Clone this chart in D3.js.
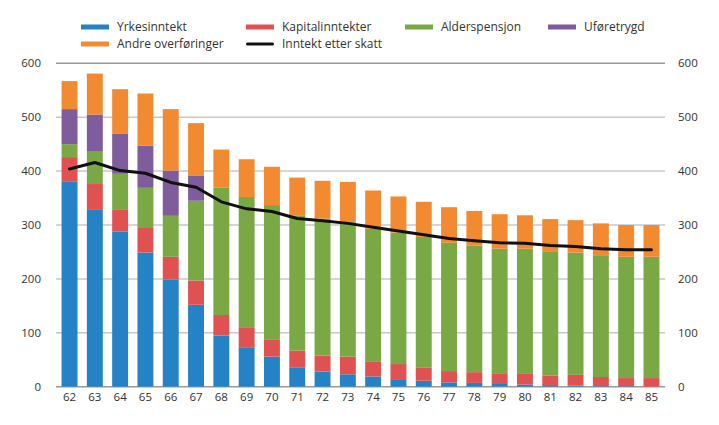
<!DOCTYPE html>
<html>
<head>
<meta charset="utf-8">
<script src="https://cdn.jsdelivr.net/npm/d3@7"></script>
<style>
  body { margin: 0; background: #fff; }
  text { font-family: "Open Sans", sans-serif; fill: #333; }
</style>
</head>
<body>
<svg id="chart" width="719" height="425"></svg>
<script>
const ages = ['62','63','64','65','66','67','68','69','70','71','72','73','74','75','76','77','78','79','80','81','82','83','84','85'];

// stacked components (thousand NOK)
const yrkesinntekt = [380, 328, 288, 249, 199, 152, 95, 72, 56, 36, 28, 23, 19, 14, 11, 8, 7, 5, 4, 3, 2, 1, 1, 0];
const kapital = [46, 48, 40, 47, 42, 45, 38, 37, 32, 31, 30, 33, 27, 28, 24, 21, 20, 20, 21, 18, 20, 17, 15, 16];
const alderspensjon = [24, 60, 67, 73, 76, 148, 236, 243, 249, 251, 254, 251, 247, 244, 243, 238, 235, 231, 231, 229, 227, 226, 225, 225];
const uforetrygd = [65, 69, 74, 78, 84, 46, 0, 0, 0, 0, 0, 0, 0, 0, 0, 0, 0, 0, 0, 0, 0, 0, 0, 0];
const andre = [52, 76, 83, 97, 114, 98, 71, 70, 71, 70, 70, 73, 71, 67, 65, 66, 64, 64, 62, 61, 60, 59, 59, 59];
const etterSkatt = [404, 416, 401, 396, 379, 370, 343, 330, 325, 312, 308, 303, 296, 289, 282, 275, 271, 267, 266, 262, 260, 256, 254, 254];

const yTicks = [0, 100, 200, 300, 400, 500, 600];

const seriesNames = ['Yrkesinntekt', 'Kapitalinntekter', 'Alderspensjon', 'Uføretrygd', 'Andre overføringer'];
const colors = ['#2582c4', '#e05252', '#7aa844', '#7f5c9b', '#f28a31'];

const rows = ages.map((a, i) => ({
  age: a,
  'Yrkesinntekt': yrkesinntekt[i],
  'Kapitalinntekter': kapital[i],
  'Alderspensjon': alderspensjon[i],
  'Uføretrygd': uforetrygd[i],
  'Andre overføringer': andre[i]
}));

const svg = d3.select('#chart');
const plotLeft = 56, plotRight = 665, plotTop = 63.3, plotBottom = 386.7;

const x = d3.scaleBand().domain(ages).range([plotLeft, plotRight]).paddingInner(0.37).paddingOuter(0.22);
const y = d3.scaleLinear().domain([0, 600]).range([plotBottom, plotTop]);

// gridlines
svg.append('g')
  .selectAll('line')
  .data(yTicks)
  .enter()
  .append('line')
  .attr('x1', plotLeft)
  .attr('x2', plotRight)
  .attr('y1', d => y(d))
  .attr('y2', d => y(d))
  .attr('stroke', d => (d === 600 || d === 0) ? '#9a9a9a' : '#c8c8c8')
  .attr('stroke-width', 1.5);

// axes (labels only)
const yLeft = d3.axisLeft(y).tickValues(yTicks).tickSize(0).tickPadding(0);
const gl = svg.append('g').attr('transform', `translate(${plotLeft - 15},0)`).call(yLeft);
const yRight = d3.axisRight(y).tickValues(yTicks).tickSize(0).tickPadding(0);
const gr = svg.append('g').attr('transform', `translate(${plotRight + 13},0)`).call(yRight);
const xAxis = d3.axisBottom(x).tickSize(0).tickPadding(0);
const gx = svg.append('g').attr('transform', `translate(0,${plotBottom + 6})`).call(xAxis);
[gl, gr, gx].forEach(g => {
  g.select('.domain').remove();
  g.selectAll('text').style('font-size', '11.5px').style('font-family', '"Open Sans", sans-serif').attr('fill', '#333');
});

// stacked bars
const stack = d3.stack().keys(seriesNames)(rows);
svg.append('g')
  .selectAll('g')
  .data(stack)
  .enter()
  .append('g')
  .attr('fill', (d, i) => colors[i])
  .selectAll('rect')
  .data(d => d)
  .enter()
  .append('rect')
  .attr('x', d => x(d.data.age))
  .attr('y', d => y(d[1]))
  .attr('width', x.bandwidth())
  .attr('height', d => y(d[0]) - y(d[1]));

// line
const line = d3.line()
  .x((d, i) => x(ages[i]) + x.bandwidth() / 2)
  .y(d => y(d));
svg.append('path')
  .datum(etterSkatt)
  .attr('d', line)
  .attr('fill', 'none')
  .attr('stroke', '#111')
  .attr('stroke-width', 3)
  .attr('stroke-linejoin', 'round')
  .attr('stroke-linecap', 'round');

// legend
const legend = [
  { name: 'Yrkesinntekt', color: colors[0], x: 81, y: 27 },
  { name: 'Kapitalinntekter', color: colors[1], x: 246, y: 27 },
  { name: 'Alderspensjon', color: colors[2], x: 405, y: 27 },
  { name: 'Uføretrygd', color: colors[3], x: 548, y: 27 },
  { name: 'Andre overføringer', color: colors[4], x: 81, y: 44 },
  { name: 'Inntekt etter skatt', color: '#111', x: 246, y: 44, line: true }
];
const lg = svg.append('g').selectAll('g').data(legend).enter().append('g')
  .attr('transform', d => `translate(${d.x},${d.y})`);
lg.append('rect')
  .attr('x', 0)
  .attr('y', d => d.line ? -1.5 : -2.5)
  .attr('width', 28)
  .attr('height', d => d.line ? 3 : 5)
  .attr('rx', d => d.line ? 1.5 : 0)
  .attr('fill', d => d.color);
lg.append('text')
  .attr('x', 36)
  .attr('y', 0)
  .attr('dy', '0.35em')
  .style('font-size', '12px')
  .text(d => d.name);
</script>
</body>
</html>
